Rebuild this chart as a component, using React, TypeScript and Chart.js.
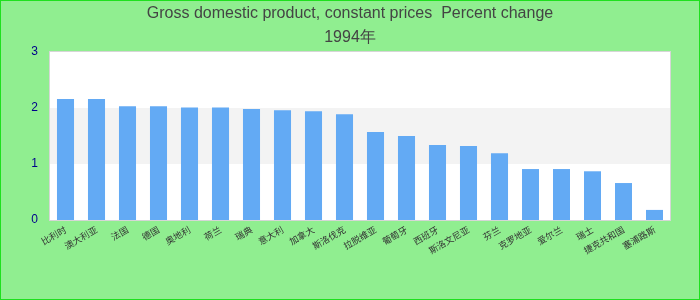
import React, { useEffect, useRef } from "react";
import { Chart, registerables } from "chart.js";

Chart.register(...registerables);

const titleLines = ["Gross domestic product, constant prices  Percent change", "1994年"];
const categories = [
  "比利时", "澳大利亚", "法国", "德国", "奥地利", "荷兰", "瑞典", "意大利", "加拿大", "斯洛伐克",
  "拉脱维亚", "葡萄牙", "西班牙", "斯洛文尼亚", "芬兰", "克罗地亚", "爱尔兰", "瑞士", "捷克共和国", "塞浦路斯",
];
const values = [2.16, 2.16, 2.03, 2.03, 2.01, 2.01, 1.98, 1.96, 1.94, 1.89, 1.57, 1.5, 1.34, 1.32, 1.19, 0.91, 0.91, 0.87, 0.66, 0.18];
const yMin = 0;
const yMax = 3;
const yStep = 1;
const bandFrom = 1;
const bandTo = 2;

const backgroundPlugin = {
  id: "bgPlugin",
  beforeDraw(chart: any) {
    const { ctx, chartArea, scales } = chart;
    const w = chart.width;
    const h = chart.height;
    ctx.save();
    ctx.fillStyle = "#90ee90";
    ctx.fillRect(0, 0, w, h);
    ctx.strokeStyle = "#1ee01e";
    ctx.lineWidth = 1;
    ctx.strokeRect(0.5, 0.5, w - 1, h - 1);
    ctx.fillStyle = "#ffffff";
    ctx.fillRect(chartArea.left, chartArea.top, chartArea.right - chartArea.left, chartArea.bottom - chartArea.top);
    const y1 = scales.y.getPixelForValue(bandTo);
    const y2 = scales.y.getPixelForValue(bandFrom);
    ctx.fillStyle = "#f3f3f3";
    ctx.fillRect(chartArea.left, y1, chartArea.right - chartArea.left, y2 - y1);
    ctx.strokeStyle = "#d6d6d6";
    ctx.lineWidth = 1;
    ctx.strokeRect(chartArea.left - 0.5, chartArea.top - 0.5, chartArea.right - chartArea.left + 1, chartArea.bottom - chartArea.top + 1);
    ctx.restore();
  },
};

export default function App() {
  const ref = useRef<HTMLCanvasElement | null>(null);
  useEffect(() => {
    if (!ref.current) return;
    const chart = new Chart(ref.current, {
      type: "bar",
      data: {
        labels: categories,
        datasets: [
          {
            data: values,
            backgroundColor: "#63aaf4",
            barPercentage: 0.55,
            categoryPercentage: 1,
          },
        ],
      },
      options: {
        animation: false,
        responsive: false,
        layout: { padding: 0 },
        plugins: {
          legend: { display: false },
          tooltip: { enabled: false },
          title: {
            display: true,
            text: titleLines,
            color: "#444444",
            font: { family: "'Liberation Sans', Arial, sans-serif", size: 16, weight: "normal", lineHeight: 1.5 },
            padding: { top: 2, bottom: 2 },
          },
        },
        scales: {
          x: {
            grid: { display: false, drawTicks: false },
            border: { display: false },
            ticks: {
              autoSkip: false,
              minRotation: 30,
              maxRotation: 30,
              color: "#333333",
              padding: 4,
              font: { family: "'Noto Sans CJK SC', 'Liberation Sans', sans-serif", size: 9 },
            },
            afterFit(scale: any) {
              scale.height = 80;
            },
          },
          y: {
            min: yMin,
            max: yMax,
            grid: { display: false, drawTicks: false },
            border: { display: false },
            ticks: {
              stepSize: yStep,
              color: "#00008b",
              padding: 12,
              font: { family: "'Liberation Sans', Arial, sans-serif", size: 12 },
            },
            afterFit(scale: any) {
              scale.width = 50;
            },
          },
          yRight: {
            position: "right",
            min: yMin,
            max: yMax,
            grid: { display: false, drawTicks: false },
            border: { display: false },
            ticks: { display: false },
            afterFit(scale: any) {
              scale.width = 30;
            },
          },
        },
      },
      plugins: [backgroundPlugin],
    } as any);
    return () => chart.destroy();
  }, []);
  return (
    <div style={{ position: "fixed", left: 0, top: 0, width: 700, height: 300 }}>
      <canvas ref={ref} width={700} height={300} />
    </div>
  );
}
